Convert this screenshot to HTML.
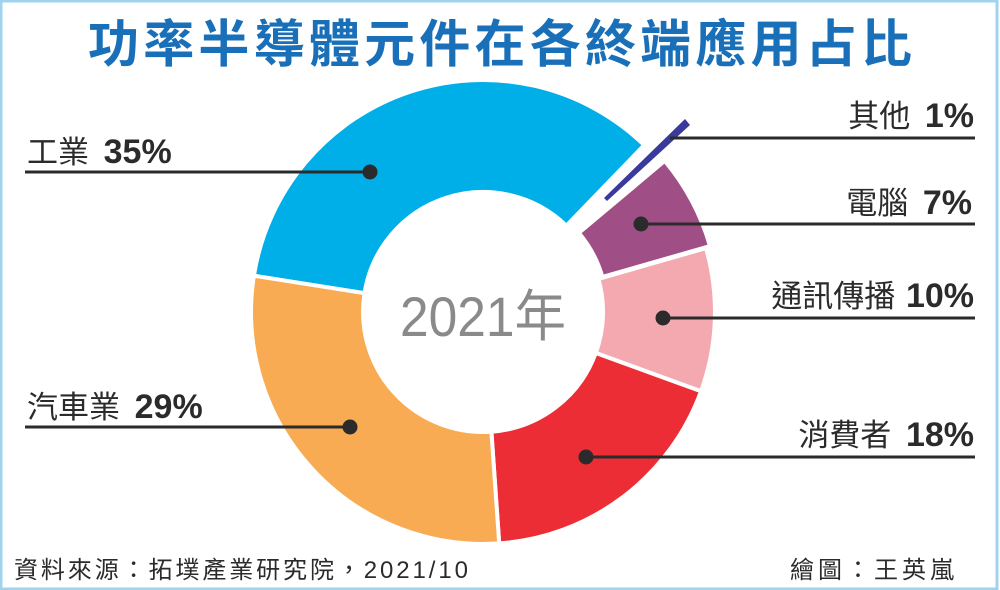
<!DOCTYPE html>
<html><head><meta charset="utf-8"><style>
html,body{margin:0;padding:0;background:#fff}
body{width:1000px;height:590px;overflow:hidden;position:relative}
svg{position:absolute;left:0;top:0}
text{font-family:"Liberation Sans","Noto Sans CJK TC",sans-serif}
</style></head><body>
<svg id="s" width="1000" height="590" viewBox="0 0 1000 590">
<rect x="1" y="1" width="996" height="588" fill="#fff" stroke="#9fd3ee" stroke-width="3"/>
<text x="500" y="62" text-anchor="middle" font-size="51" font-weight="bold" fill="#1a70b8" textLength="824" lengthAdjust="spacing">功率半導體元件在各終端應用占比</text>
<g id="pie"></g>
<text x="483" y="336" text-anchor="middle" font-size="56" fill="#8a8a8a" textLength="166" lengthAdjust="spacingAndGlyphs">2021年</text>
<g stroke="#2b2b2b" stroke-width="3" fill="#2b2b2b">
<line x1="25" y1="172" x2="370" y2="172"/><circle cx="370" cy="172" r="6"/>
<line x1="25" y1="427" x2="350" y2="427"/><circle cx="350" cy="427" r="6"/>
<line x1="670" y1="138" x2="975" y2="138"/>
<line x1="641" y1="224" x2="975" y2="224"/><circle cx="641" cy="224" r="6"/>
<line x1="663" y1="318" x2="975" y2="318"/><circle cx="663" cy="318" r="6"/>
<line x1="586" y1="457" x2="975" y2="457"/><circle cx="586" cy="457" r="6"/>
</g>
<g font-size="31" fill="#2b2b2b">
<text x="27" y="163">工業 <tspan font-weight="bold" font-size="34" dx="6">35%</tspan></text>
<text x="27" y="418">汽車業 <tspan font-weight="bold" font-size="34" dx="6">29%</tspan></text>
<text x="974" y="127" text-anchor="end">其他 <tspan font-weight="bold" font-size="34" dx="6">1%</tspan></text>
<text x="972" y="214" text-anchor="end">電腦 <tspan font-weight="bold" font-size="34" dx="6">7%</tspan></text>
<text x="974" y="307" text-anchor="end">通訊傳播 <tspan font-weight="bold" font-size="34" dx="2">10%</tspan></text>
<text x="974" y="446" text-anchor="end">消費者 <tspan font-weight="bold" font-size="34" dx="6">18%</tspan></text>
</g>
<text x="14" y="578" font-size="24" fill="#2b2b2b" textLength="454" lengthAdjust="spacing">資料來源：拓墣產業研究院，2021/10</text>
<text x="790" y="578" font-size="24" fill="#2b2b2b" textLength="164" lengthAdjust="spacing">繪圖：王英嵐</text>
</svg>
<script>
var cx=483,cy=312,ro=232,ri=120;
function p(a,r){a=a*Math.PI/180;return (cx+r*Math.cos(a)).toFixed(1)+","+(cy+r*Math.sin(a)).toFixed(1);}
function seg(a0,a1,col,dx,dy){
 var big=(a1-a0)>180?1:0;
 var d="M"+p(a0,ro)+" A"+ro+","+ro+" 0 "+big+" 1 "+p(a1,ro)+" L"+p(a1,ri)+" A"+ri+","+ri+" 0 "+big+" 0 "+p(a0,ri)+"Z";
 return '<path d="'+d+'" fill="'+col+'" stroke="#fff" stroke-width="4" transform="translate('+(dx||0)+','+(dy||0)+')"/>';
}
var h="";
h+=seg(-171,-46,"#00aee8");
h+=seg(-40,-16,"#a04f86",4,-2);
h+=seg(-16,20,"#f4a9b0");
h+=seg(20,86,"#ec2d35");
h+=seg(86,189,"#f8ab52");
h+='<polygon points="604,198 607,201 690,125 685,119" fill="#3a3a9c"/>';
document.getElementById("pie").innerHTML=h;
</script>
</body></html>
